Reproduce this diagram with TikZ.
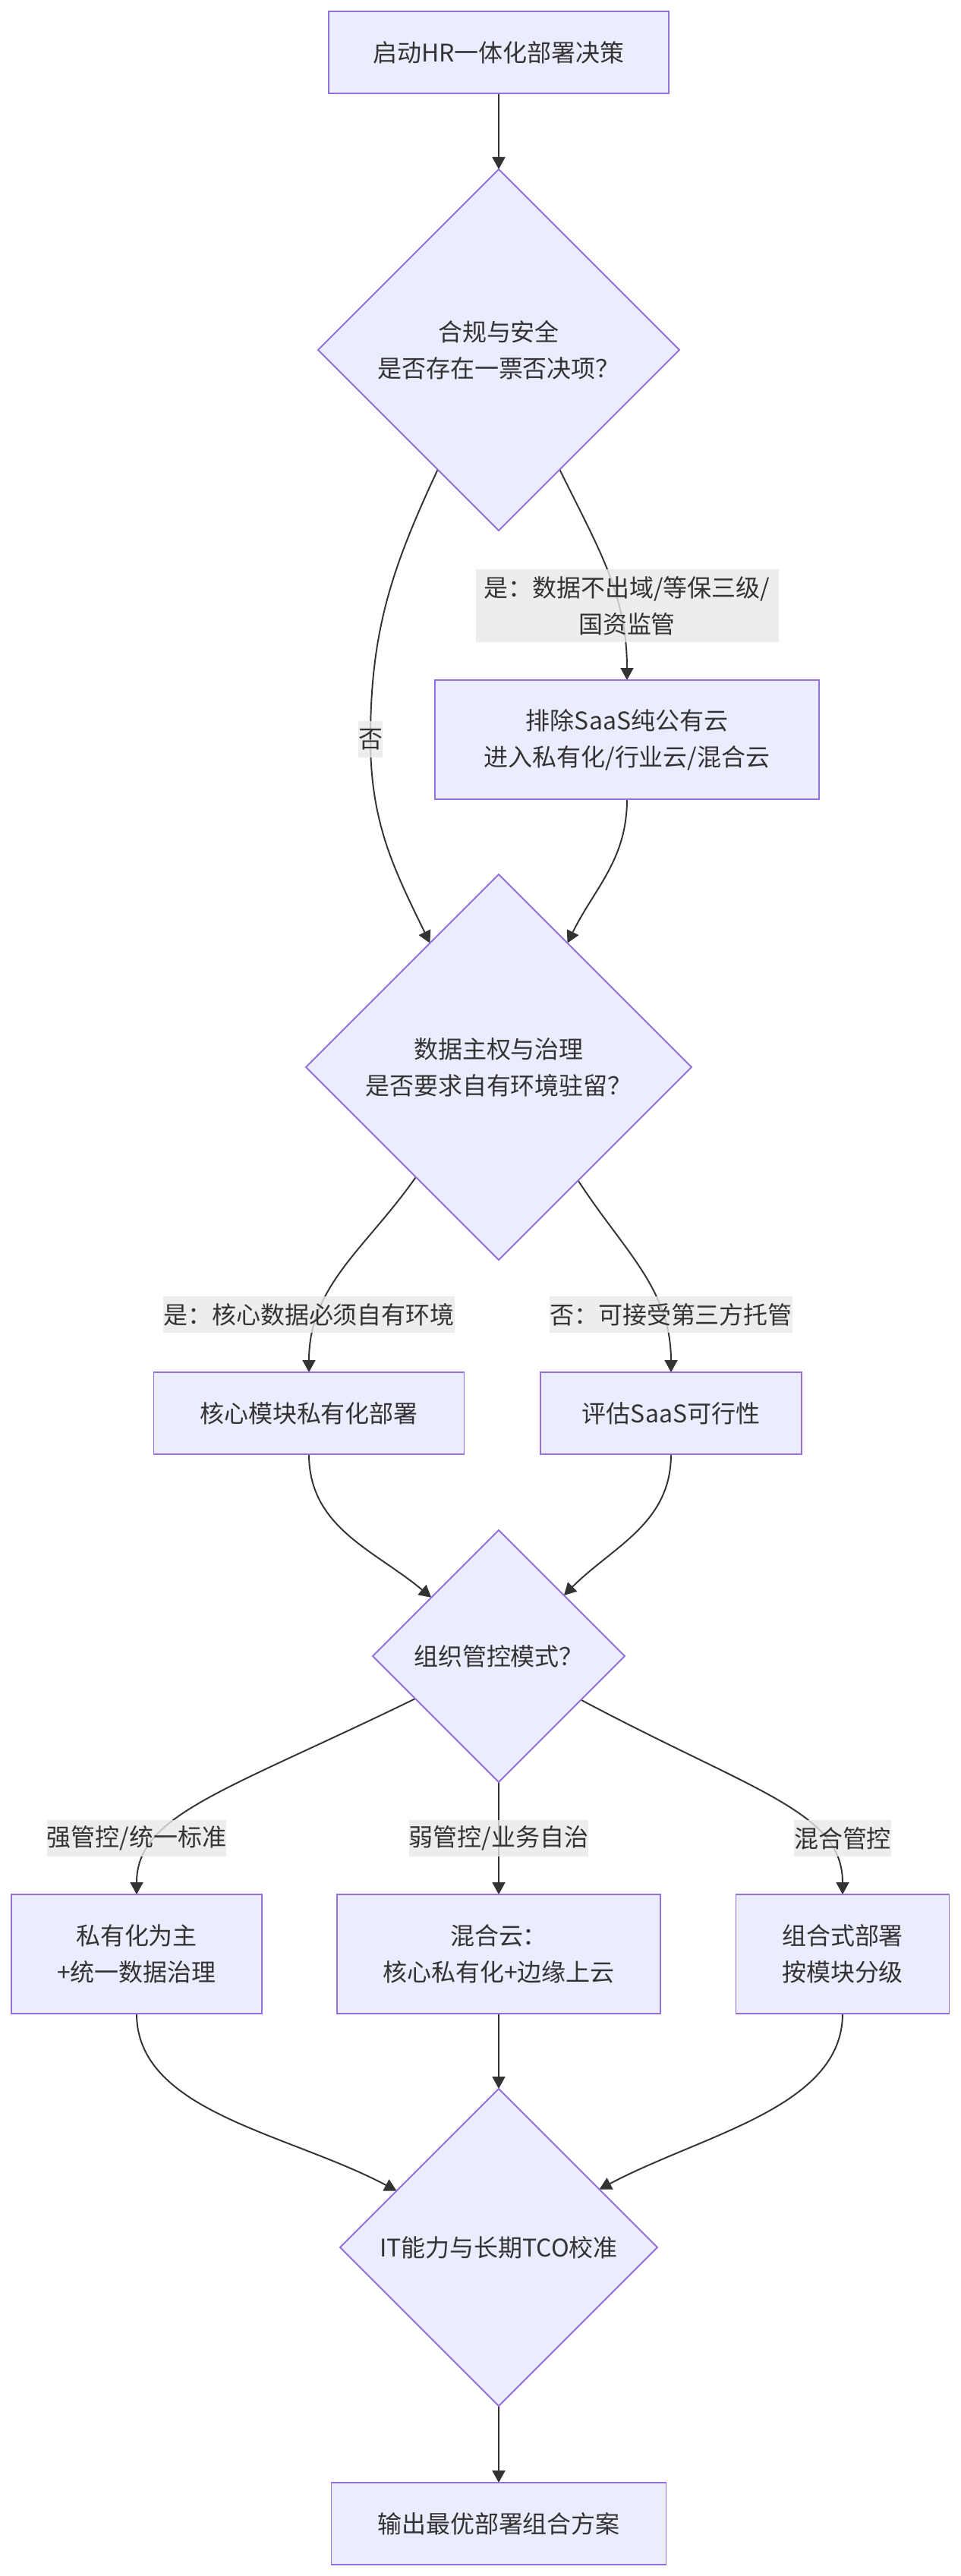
\documentclass[tikz,border=0pt]{standalone}
\usepackage{fontspec}
\newfontfamily\cjk{Noto Sans CJK SC}
\usepackage{tikz}
\usetikzlibrary{positioning,shapes.geometric,arrows.meta,backgrounds}
\definecolor{boxfill}{HTML}{ECECFF}
\definecolor{boxline}{HTML}{9370DB}
\definecolor{ink}{HTML}{333333}
\definecolor{lblfill}{HTML}{E8E8E8}
\newcommand{\hrfont}{\cjk\fontsize{18.2pt}{27.3pt}\selectfont}

\begin{document}
\begin{tikzpicture}[
    box/.style={draw=boxline, fill=boxfill, line width=1.1pt, minimum height=2.16cm,
                align=center, font=\hrfont, text=ink, inner sep=0pt, outer sep=0pt},
    decision/.style={diamond, aspect=1, draw=boxline, fill=boxfill, line width=1.1pt,
                align=center, font=\hrfont, text=ink, inner sep=0pt, outer sep=0pt},
    lbl/.style={fill=lblfill, fill opacity=0.8, text opacity=1, minimum height=0.96cm,
                align=center, font=\hrfont, text=ink, inner sep=0pt, outer sep=0pt},
    arr/.style={-{Triangle[length=0.32cm,width=0.34cm]}, line width=1.1pt, draw=ink},
  ]
  \useasboundingbox (0,0) rectangle (25.3,-67.88);

  % Start and compliance check
  \node[box, minimum width=8.96cm] (start) at (13.14,-1.38) {启动HR一体化部署决策};
  \node[decision, minimum size=9.52cm, below=2cm of start] (comply) {合规与安全\\是否存在一票否决项？};
  \node[box, minimum width=10.12cm, minimum height=3.14cm, below=3.94cm of comply, xshift=3.38cm] (exclude)
       {排除SaaS纯公有云\\进入私有化/行业云/混合云};
  \node[lbl, minimum width=7.98cm, minimum height=1.92cm, above=1.0cm of exclude] (veto)
       {是：数据不出域/等保三级/\\国资监管};
  \node[lbl, below=5.02cm of comply, xshift=-3.38cm] (noveto) {否};

  % Data sovereignty
  \node[decision, minimum size=10.16cm, below=9.06cm of comply] (sovereign) {数据主权与治理\\是否要求自有环境驻留？};
  \node[lbl, below=0.96cm of sovereign, xshift=-5cm] (ownenv) {是：核心数据必须自有环境};
  \node[lbl, below=0.96cm of sovereign, xshift=4.54cm] (hosted) {否：可接受第三方托管};
  \node[box, minimum width=8.18cm, below=1.04cm of ownenv] (coreprv) {核心模块私有化部署};
  \node[box, minimum width=6.88cm, below=1.04cm of hosted] (saas) {评估SaaS可行性};

  % Governance mode
  \node[decision, minimum size=6.64cm, below=7.12cm of sovereign] (govern) {组织管控模式？};
  \node[lbl, below=1cm of govern, xshift=-9.54cm] (strong) {强管控/统一标准};
  \node[lbl, below=1cm of govern] (weak) {弱管控/业务自治};
  \node[lbl, below=1cm of govern, xshift=9.06cm] (mixed) {混合管控};
  \node[box, minimum width=6.6cm, minimum height=3.14cm, below=1cm of strong] (private)
       {私有化为主\\+统一数据治理};
  \node[box, minimum width=8.52cm, minimum height=3.14cm, below=1cm of weak] (hybrid)
       {混合云：\\核心私有化+边缘上云};
  \node[box, minimum width=5.62cm, minimum height=3.14cm, below=1cm of mixed] (compose)
       {组合式部署\\按模块分级};

  % TCO check and output
  \node[decision, minimum size=8.36cm, below=8.08cm of govern] (tco) {IT能力与长期TCO校准};
  \node[box, minimum width=8.82cm, below=2.02cm of tco] (result) {输出最优部署组合方案};

  \begin{pgfonlayer}{background}
    \draw[arr] (start) -- (comply);
    \draw[arr] (comply.-63) to[out=-64, in=90] (exclude.north);
    \draw[arr] (comply.-117) to[out=-115, in=90] (noveto.center) to[out=-90, in=116] (sovereign.119);
    \draw[arr] (exclude.south) to[out=-90, in=64] (sovereign.61);

    \draw[arr] (sovereign.-127) to[out=-125, in=90] (coreprv.north);
    \draw[arr] (sovereign.-55) to[out=-57, in=90] (saas.north);
    \draw[arr] (coreprv.south) to[out=-90, in=140] (govern.139);
    \draw[arr] (saas.south) to[out=-90, in=45] (govern.43);

    \draw[arr] (govern.-153) to[out=-154, in=90, out looseness=1.6, in looseness=0.6] (private.north);
    \draw[arr] (govern) -- (hybrid);
    \draw[arr] (govern.-28) to[out=-28, in=90, out looseness=1.55, in looseness=0.65] (compose.north);

    \draw[arr] (private.south) to[out=-90, in=152, out looseness=0.8] (tco.151);
    \draw[arr] (hybrid) -- (tco);
    \draw[arr] (compose.south) to[out=-90, in=28, out looseness=0.8] (tco.30);
    \draw[arr] (tco) -- (result);
  \end{pgfonlayer}

\end{tikzpicture}
\end{document}
